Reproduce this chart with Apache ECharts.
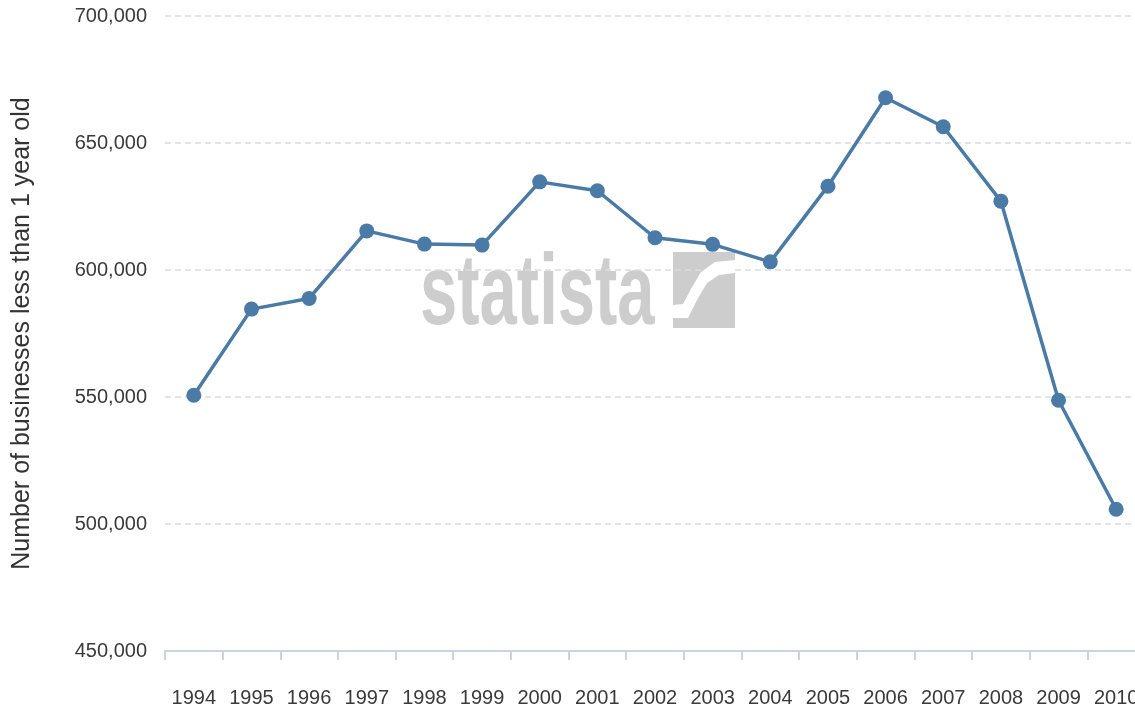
<!DOCTYPE html>
<html>
<head>
<meta charset="utf-8">
<script src="https://cdn.jsdelivr.net/npm/echarts@6/dist/echarts.min.js"></script>
<style>
  html, body { margin: 0; padding: 0; background: #fff; }
  #chart { width: 1135px; height: 711px; }
</style>
</head>
<body>
<div id="chart"></div>
<script>
// years on the x axis
const years = ["1994", "1995", "1996", "1997", "1998", "1999", "2000", "2001", "2002",
  "2003", "2004", "2005", "2006", "2007", "2008", "2009", "2010"];
// number of businesses less than 1 year old
const newBusinesses = [550700, 584600, 588800, 615400, 610200, 609800, 634700, 631200, 612700,
  610100, 603200, 633000, 667800, 656400, 627100, 548700, 505800];
// y axis range
const yMin = 450000;
const yMax = 700000;
const yStep = 50000;

const chart = echarts.init(document.getElementById("chart"));
const labelFont = "'Liberation Sans', Arial, sans-serif";

const option = {
  animation: false,
  grid: {
    left: 165,
    top: 16,
    width: 980,
    bottom: 60,
    containLabel: false,
    outerBoundsMode: "none"
  },
  xAxis: {
    type: "category",
    data: years,
    boundaryGap: true,
    axisLine: { show: true, lineStyle: { color: "#c8d4e2", width: 2 } },
    axisTick: { show: true, length: 9, lineStyle: { color: "#c8d4e2", width: 2 } },
    axisLabel: {
      interval: 0,
      margin: 37,
      color: "#3a3a3a",
      fontSize: 20,
      fontFamily: labelFont
    }
  },
  yAxis: {
    type: "value",
    min: yMin,
    max: yMax,
    interval: yStep,
    name: "Number of businesses less than 1 year old",
    nameLocation: "middle",
    nameRotate: 90,
    nameGap: 130,
    nameTextStyle: {
      color: "#333",
      fontSize: 25,
      fontFamily: labelFont
    },
    axisLine: { show: false },
    axisTick: { show: false },
    axisLabel: {
      margin: 18,
      color: "#3a3a3a",
      fontSize: 20,
      fontFamily: labelFont,
      formatter: function (v) { return v.toLocaleString("en-US"); }
    },
    splitLine: { lineStyle: { color: "#dcdcdc", type: [6, 4], width: 1.5 } }
  },
  graphic: [
    {
      type: "text",
      x: 420,
      y: 246,
      scaleX: 0.67,
      z: 0,
      style: {
        text: "statista",
        fill: "#cdcdcd",
        font: "bold 100px 'Liberation Sans', Arial, sans-serif"
      }
    },
    {
      type: "rect",
      z: 0,
      shape: { x: 673, y: 252, width: 62, height: 76 },
      style: { fill: "#cdcdcd" }
    },
    {
      type: "polygon",
      z: 1,
      shape: {
        points: [[673, 318], [688, 318], [697, 300], [707, 283], [719, 275], [735, 273],
          [735, 260], [715, 262], [701, 272], [691, 289], [683, 304], [673, 305]]
      },
      style: { fill: "#ffffff" }
    }
  ],
  series: [
    {
      type: "line",
      data: newBusinesses,
      z: 5,
      symbol: "circle",
      symbolSize: 15,
      lineStyle: { color: "#4a7aa6", width: 3.5 },
      itemStyle: { color: "#4a7aa6" }
    }
  ]
};

chart.setOption(option);
</script>
</body>
</html>
